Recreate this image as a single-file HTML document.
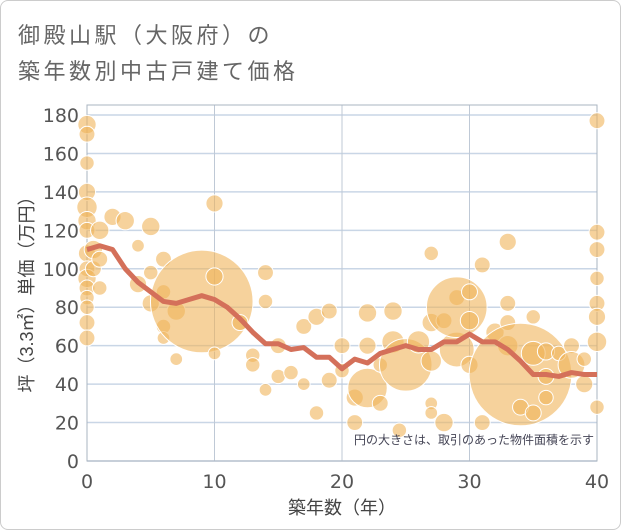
<!DOCTYPE html>
<html><head><meta charset="utf-8"><style>
body{margin:0;background:#fff;}
#wrap{position:relative;width:619px;height:528px;border:1px solid #ccc;border-radius:8px;overflow:hidden;font-family:"Liberation Sans","Noto Sans CJK JP",sans-serif;}
.title{position:absolute;left:17px;font-size:22px;color:#666;letter-spacing:3.5px;}
</style></head><body>
<div id="wrap">
<div class="title" style="top:17px">御殿山駅（大阪府）の</div>
<div class="title" style="top:53px">築年数別中古戸建て価格</div>
<svg id="chart" width="621" height="530" style="position:absolute;left:-1px;top:-1px"></svg>
</div>
<script>
const xTicks=[0,10,20,30,40];
const yTicks=[0,20,40,60,80,100,120,140,160,180];
const lineX=[0,1,2,3,4,5,6,7,8,9,10,11,12,13,14,15,16,17,18,19,20,21,22,23,24,25,26,27,28,29,30,31,32,33,34,35,36,37,38,39,40];
const lineY=[110,112,110,100,93,88,83,82,84,86,84,80,74,67,61,61,58,59,54,54,48,53,51,56,58,60,58,58,62,62,66,62,62,58,52,45,45,44,46,45,45];
const bubX=[0,0,0,0,0,0,0,0,0,0,0,0,0,0,0,0.5,0.5,1,1,1,2,3,4,4,5,5,5,6,6,6,6,7,7,9,10,10,10,12,13,13,14,14,14,15,15,16,17,17,18,18,19,19,20,20,21,21,22,22,22,23,23,24,24,24.5,25,26,27,27,27,27,27,28,28,29,29,29,30,30,30,31,31,32,33,33,33,33,34,34,35,35,35,36,36,36,37,38,38,39,39,40,40,40,40,40,40,40,40];
const bubY=[175,170,155,140,132,125,120,108,100,95,90,85,80,72,64,110,100,120,105,90,127,125,112,92,122,98,82,105,88,70,64,78,53,83,134,96,56,72,55,50,98,83,37,44,60,46,70,40,75,25,42,78,60,47,20,33,60,38,77,50,30,62,78,16,50,62,108,72,52,30,25,20,73,58,85,80,88,50,73,102,20,67,60,72,82,114,45,28,25,56,75,44,33,57,56,60,50,40,53,28,110,82,177,119,95,75,62,44,28,22];
const bubA=[30,20,15,25,40,30,20,25,20,30,20,15,15,20,20,30,20,30,20,15,25,30,10,25,30,15,25,20,15,15,10,30,10,1600,25,25,10,20,15,15,20,15,10,15,20,15,20,10,25,15,20,20,20,15,20,25,25,200,30,15,20,50,30,15,380,50,15,30,40,10,10,30,20,150,20,520,20,25,30,20,20,30,40,20,20,25,1600,20,20,60,15,20,15,25,15,20,80,25,15,15,20,20,20,20,15,25,35,30,15];
const svg=document.getElementById('chart');const NS='http://www.w3.org/2000/svg';
const L=87,R=597,T=115,B=461;
const sx=v=>L+(v-0)/40*(R-L), sy=v=>B-v/180*(B-T);
function mk(t,a){const e=document.createElementNS(NS,t);for(const k in a)e.setAttribute(k,a[k]);svg.appendChild(e);return e;}
for(const v of yTicks){const g=mk('line',{x1:L,x2:R,y1:sy(v),y2:sy(v),stroke:'#c9d6e6','stroke-width':1.5});


const t=mk('text',{x:L-8,y:sy(v)+7,'text-anchor':'end','font-size':19,fill:'#555','font-family':'DejaVu Sans, sans-serif'});t.textContent=v;

}
for(const v of xTicks){const g=mk('line',{x1:sx(v),x2:sx(v),y1:T-10,y2:B,stroke:'#bfc9d6','stroke-width':1});


const t=mk('text',{x:sx(v),y:B+27,'text-anchor':'middle','font-size':19,fill:'#555','font-family':'DejaVu Sans, sans-serif'});t.textContent=v;

}
const fr=mk('rect',{x:L,y:T-10,width:R-L,height:B-T+10,fill:'none',stroke:'#aab4c0','stroke-width':1});


for(let i=0;i<bubX.length;i++){const c=mk('circle',{cx:sx(bubX[i]),cy:sy(bubY[i]),r:Math.sqrt(bubA[i])*1.22+2.5,fill:'rgba(240,180,90,0.6)',stroke:'#fff','stroke-width':1});

}
let d='';lineX.forEach((x,i)=>{d+=(i?'L':'M')+sx(x)+','+sy(lineY[i]);});
const p=mk('path',{d:d,fill:'none',stroke:'#d4705a','stroke-width':5,'stroke-linejoin':'round'});


const n=mk('text',{x:R-3,y:B-17,'text-anchor':'end','font-size':12,fill:'#445','font-family':'Liberation Sans, Noto Sans CJK JP, sans-serif'});n.textContent='円の大きさは、取引のあった物件面積を示す';


const xt=mk('text',{x:342,y:514,'text-anchor':'middle','font-size':18,fill:'#444','font-family':'Liberation Sans, Noto Sans CJK JP, sans-serif'});xt.textContent='築年数（年）';


const yt=mk('text',{x:0,y:0,'text-anchor':'middle','font-size':18,fill:'#444','font-family':'Liberation Sans, Noto Sans CJK JP, sans-serif',transform:'translate(33,290) rotate(-90)'});yt.textContent='坪（3.3㎡）単価（万円）';


</script>
</body></html>
